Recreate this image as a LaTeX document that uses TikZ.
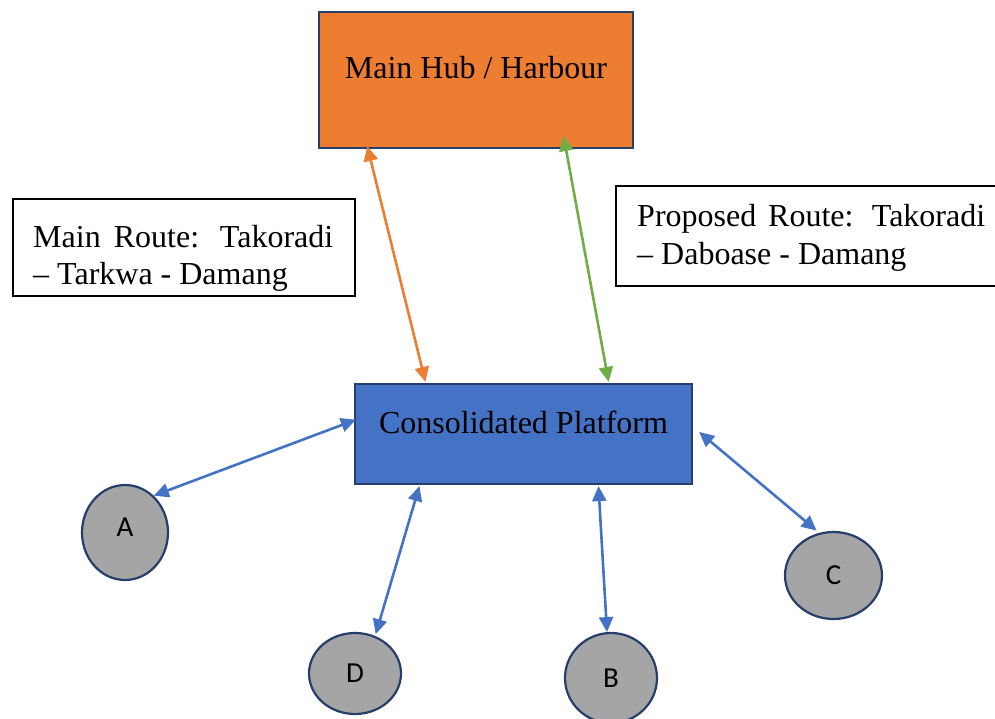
\documentclass[tikz,border=0pt]{standalone}
\usepackage{fontspec}
\setmainfont{Liberation Serif}
\newfontfamily\letterfont{Carlito}
\usetikzlibrary{shapes.geometric,calc,arrows.meta}

\definecolor{hubfill}{HTML}{ED7D31}
\definecolor{platfill}{HTML}{4472C4}
\definecolor{navyline}{HTML}{263E6B}
\definecolor{sitefill}{HTML}{A5A5A5}
\definecolor{greenroute}{HTML}{70AD47}
\definecolor{orangeroute}{HTML}{ED7D31}
\definecolor{bluelink}{HTML}{4472C4}

\tikzset{
  bigbox/.style={draw=navyline, line width=2.2pt, rectangle, inner sep=0pt,
    font=\fontsize{32}{37}\selectfont, text height=22pt, text depth=24pt},
  notebox/.style={draw=black, line width=1.6pt, rectangle, inner sep=0pt, anchor=north west},
  notetext/.style={anchor=base west, font=\fontsize{32}{37}\selectfont, align=left, inner sep=0pt},
  site/.style={ellipse, draw=navyline, line width=2.2pt, fill=sitefill,
    inner sep=0pt, font=\letterfont\fontsize{29}{32}\selectfont},
  link/.style={line width=2.6pt, {Triangle[length=15pt,width=14pt]}-{Triangle[length=15pt,width=14pt]}},
}

\begin{document}
\begin{tikzpicture}[x=1pt, y=-1pt]
\useasboundingbox (0,0) rectangle (995,719);

% hub and consolidated platform
\node[bigbox, fill=hubfill, minimum width=314pt, minimum height=136pt] (hub) at (476,80) {Main Hub / Harbour};
\node[bigbox, fill=platfill, minimum width=337pt, minimum height=100pt] (plat) at (523.5,434) {Consolidated Platform};

% route notes (anchored on the baseline of their last line)
\node[notebox, minimum width=342pt, minimum height=97pt] (mainroute) at (12,198) {};
\node[notetext] (mainroutetext) at (33,284)
  {\makebox[300pt][s]{Main Route: Takoradi}\\– Tarkwa - Damang};
\node[notebox, minimum width=420pt, minimum height=100pt] (newroute) at (615,185) {};
\node[notetext] (newroutetext) at (637,264)
  {\makebox[348pt][s]{Proposed Route: Takoradi}\\– Daboase - Damang};

% sites
\node[site, minimum width=86pt, minimum height=95pt, text height=19pt, text depth=12pt] (A) at (125,532.5) {A};
\node[site, minimum width=92pt, minimum height=81pt] (D) at (355,673.5) {D};
\node[site, minimum width=92pt, minimum height=90pt] (B) at (611,678) {B};
\node[site, minimum width=97pt, minimum height=87pt] (C) at (833.5,575.5) {C};

% routes between hub and platform
\draw[link, orangeroute] ($(hub.south west)!0.156!(hub.south east)+(0,-3)$) -- ($(plat.north west)!0.211!(plat.north east)+(0,-1)$);
\draw[link, greenroute] ($(hub.south west)!0.777!(hub.south east)+(0,-13)$) -- ($(plat.north west)!0.751!(plat.north east)+(0,-1)$);

% links from platform to sites
\draw[link, bluelink] ($(plat.north west)!0.36!(plat.south west)+(2,0)$) -- (A.52);
\draw[link, bluelink] ($(plat.south west)!0.193!(plat.south east)+(0,1)$) -- ($(D.61)+(0,-2)$);
\draw[link, bluelink] ($(plat.south west)!0.721!(plat.south east)+(0,1)$) -- (B.95);
\draw[link, bluelink] ($(plat.north east)!0.48!(plat.south east)+(6,0)$) -- ($(C.112)+(0,-3)$);
\end{tikzpicture}
\end{document}
